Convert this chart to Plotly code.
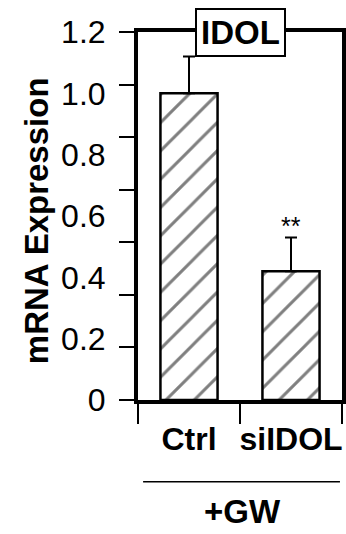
import plotly.graph_objects as go

categories = ["Ctrl", "siIDOL"]
values = [1.0, 0.42]
errors = [0.12, 0.11]
y_ticks = [0, 0.2, 0.4, 0.6, 0.8, 1.0, 1.2]
y_tick_text = ["0", "0.2", "0.4", "0.6", "0.8", "1.0", "1.2"]
minor_ticks = [0, 1, 2, 3, 4, 5, 6, 7]

FONT = "Liberation Sans, Arial, sans-serif"

fig = go.Figure()
fig.add_trace(go.Bar(
    x=categories, y=values, width=0.56,
    marker=dict(color="white", line=dict(color="black", width=2.5),
                pattern=dict(shape="/", size=20, solidity=0.15, fgcolor="black", bgcolor="white")),
    error_y=dict(type="data", symmetric=False, array=errors, arrayminus=[0, 0],
                 color="black", thickness=2, width=6),
    showlegend=False,
))
# dummy trace for secondary tick axis
fig.add_trace(go.Scatter(x=categories, y=[None, None], yaxis="y2", showlegend=False))

fig.update_layout(
    width=346, height=534,
    margin=dict(l=138, r=4, t=32, b=134, autoexpand=False),
    paper_bgcolor="white", plot_bgcolor="white",
    xaxis=dict(showline=True, mirror=True, linewidth=4, linecolor="black",
               ticks="outside", ticklen=20, tickwidth=1.5, tickcolor="black",
               tickson="boundaries", range=[-0.5, 1.5], tickangle=0, automargin=False,
               ticklabelstandoff=8,
               tickfont=dict(family=FONT, size=32, color="black", weight="bold"),
               showgrid=False),
    yaxis=dict(range=[0, 1.2], showline=True, mirror=True, linewidth=4, linecolor="black",
               tickvals=y_ticks, ticktext=y_tick_text, ticks="", ticklabelstandoff=22,
               automargin=False,
               tickfont=dict(family=FONT, size=32, color="black"),
               showgrid=False, zeroline=False),
    yaxis2=dict(range=[0, 7], overlaying="y", side="left", tickvals=minor_ticks,
                ticks="outside", ticklen=18, tickwidth=1.5, tickcolor="black", automargin=False,
                showticklabels=False, showgrid=False, zeroline=False, showline=False),
)

fig.add_annotation(text="<b>mRNA Expression</b>", textangle=-90, xref="paper", yref="paper",
                   x=-0.5, y=0.486, xanchor="center", yanchor="middle", showarrow=False,
                   font=dict(family=FONT, size=33, color="black"))
fig.add_annotation(text="<b>IDOL</b>", xref="paper", yref="paper", x=0.5, y=1.0,
                   xanchor="center", yanchor="middle",
                   showarrow=False, bgcolor="white", bordercolor="black", borderwidth=2,
                   borderpad=4, font=dict(family=FONT, size=33, color="black"))
fig.add_annotation(text="**", x=categories[1], y=values[1] + errors[1], yanchor="bottom",
                   yshift=-5, showarrow=False, font=dict(family=FONT, size=25, color="black"))
fig.add_annotation(text="<b>+GW</b>", xref="paper", yref="paper", x=0.51, y=-0.304,
                   xanchor="center", yanchor="middle",
                   showarrow=False, font=dict(family=FONT, size=33, color="black"))
fig.add_shape(type="line", xref="paper", yref="paper", x0=0.025, x1=0.99, y0=-0.222, y1=-0.222,
              line=dict(color="black", width=1.5))

fig.write_html("out.html")
